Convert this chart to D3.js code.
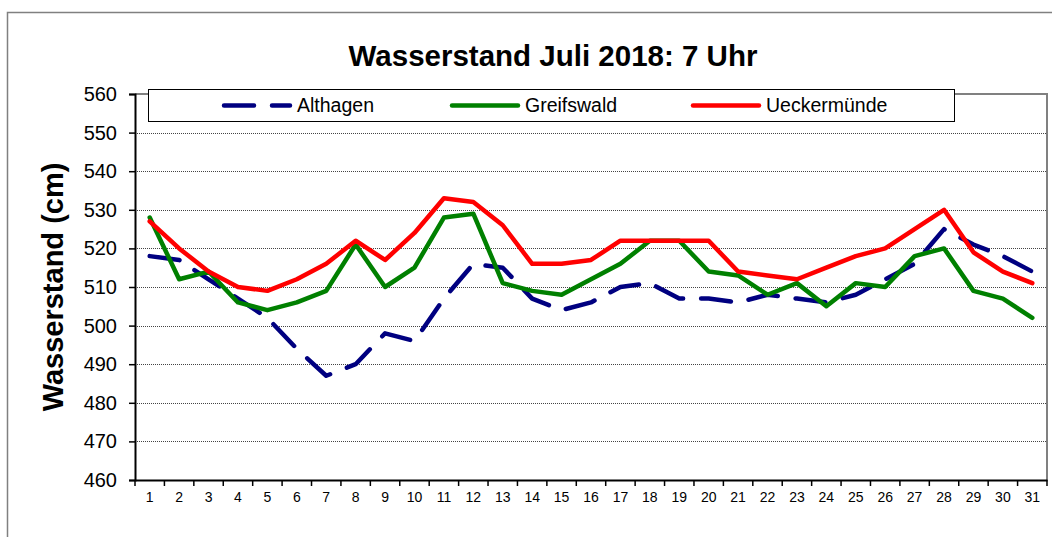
<!DOCTYPE html>
<html>
<head>
<meta charset="utf-8">
<script src="https://cdn.jsdelivr.net/npm/d3@7"></script>
<style>
  body { margin: 0; background: #fff; }
  svg { display: block; font-family: 'Liberation Sans', Arial, sans-serif; }
</style>
</head>
<body>
<div id="chart"></div>
<script>
const days = d3.range(1, 32)

const althagen = [518, 517, 512, 507, 502, 494, 487, 490, 498, 496, 507, 516, 515, 507, 504, 506, 510, 511, 507, 507, 506, 508, 507, 506, 508, 512, 516, 525, 521, 518, 514]
const greifswald = [528, 512, 514, 506, 504, 506, 509, 521, 510, 515, 528, 529, 511, 509, 508, 512, 516, 522, 522, 514, 513, 508, 511, 505, 511, 510, 518, 520, 509, 507, 502]
const ueckermuende = [527, 520, 514, 510, 509, 512, 516, 522, 517, 524, 533, 532, 526, 516, 516, 517, 522, 522, 522, 522, 514, 513, 512, 515, 518, 520, 525, 530, 519, 514, 511]

const seriesNames = ['Althagen', 'Greifswald', 'Ueckermünde']
const yTicks = d3.range(460, 561, 10)

const width = 1052
const height = 537
const margin = { top: 94, left: 135, right: 5, bottom: 57 }

const svg = d3
  .select('#chart')
  .append('svg')
  .attr('width', width)
  .attr('height', height)

// outer chart border
svg
  .append('rect')
  .attr('x', 7.5)
  .attr('y', 12.5)
  .attr('width', 1200)
  .attr('height', 800)
  .attr('fill', 'none')
  .attr('stroke', '#808080')
  .attr('stroke-width', 1.5)

const xScale = d3
  .scaleBand()
  .domain(days)
  .range([margin.left, width - margin.right])

const yScale = d3
  .scaleLinear()
  .domain([460, 560])
  .range([height - margin.bottom, margin.top])

const cx = d => xScale(d) + xScale.bandwidth() / 2

// gridlines
svg
  .selectAll('.grid')
  .data(yTicks.filter(d => d > 460 && d < 560))
  .enter()
  .append('line')
  .attr('class', 'grid')
  .attr('x1', margin.left)
  .attr('x2', width - margin.right)
  .attr('y1', d => Math.round(yScale(d)) + 0.5)
  .attr('y2', d => Math.round(yScale(d)) + 0.5)
  .attr('stroke', '#444')
  .attr('stroke-width', 1)
  .attr('stroke-dasharray', '1,1')

// plot area border (top/right grey)
svg
  .append('path')
  .attr('d', `M${margin.left},${yScale(560)}H${width - margin.right}V${yScale(460)}`)
  .attr('fill', 'none')
  .attr('stroke', '#808080')
  .attr('stroke-width', 2)

// lines
const lineData = [
  { name: seriesNames[0], values: althagen, color: '#000080', dash: '30,18' },
  { name: seriesNames[1], values: greifswald, color: '#008000', dash: null },
  { name: seriesNames[2], values: ueckermuende, color: '#ff0000', dash: null }
]

const line = d3
  .line()
  .x((d, i) => cx(days[i]))
  .y(d => yScale(d))

svg
  .selectAll('.series')
  .data(lineData)
  .enter()
  .append('path')
  .attr('class', 'series')
  .attr('d', d => line(d.values))
  .attr('fill', 'none')
  .attr('stroke', d => d.color)
  .attr('stroke-width', 4.5)
  .attr('stroke-linejoin', 'round')
  .attr('stroke-linecap', 'round')
  .attr('stroke-dasharray', d => d.dash)

// y axis
const yAxis = d3
  .axisLeft(yScale)
  .tickValues(yTicks)
  .tickSize(6)
  .tickPadding(12)
  .tickFormat(d3.format('d'))

svg
  .append('g')
  .attr('transform', `translate(${margin.left},0)`)
  .call(yAxis)
  .call(g => g.select('.domain').attr('stroke', '#000').attr('stroke-width', 2))
  .call(g => g.selectAll('.tick line').attr('stroke', '#000').attr('stroke-width', 1.5))
  .call(g =>
    g
      .selectAll('.tick text')
      .attr('font-size', 20)
      .attr('font-family', 'Liberation Sans, Arial, sans-serif')
      .attr('fill', '#000')
  )

// x axis
const xAxis = d3
  .axisBottom(xScale)
  .tickSize(0)
  .tickPadding(12)

const xg = svg
  .append('g')
  .attr('transform', `translate(0,${yScale(460)})`)
  .call(xAxis)
  .call(g => g.select('.domain').attr('stroke', '#000').attr('stroke-width', 2))
  .call(g =>
    g
      .selectAll('.tick text')
      .attr('font-size', 14)
      .attr('font-family', 'Liberation Sans, Arial, sans-serif')
      .attr('fill', '#000')
  )

// tick marks between categories
xg.selectAll('.sep')
  .data(days.concat([32]))
  .enter()
  .append('line')
  .attr('class', 'sep')
  .attr('x1', d => (d <= 31 ? xScale(d) : xScale(31) + xScale.bandwidth()))
  .attr('x2', d => (d <= 31 ? xScale(d) : xScale(31) + xScale.bandwidth()))
  .attr('y1', 0)
  .attr('y2', 6)
  .attr('stroke', '#000')
  .attr('stroke-width', 1.5)

// title
svg
  .append('text')
  .text('Wasserstand Juli 2018: 7 Uhr')
  .attr('x', 553)
  .attr('y', 66)
  .attr('text-anchor', 'middle')
  .attr('font-size', 29.5)
  .attr('font-weight', 'bold')

// y axis label
svg
  .append('text')
  .text('Wasserstand (cm)')
  .attr('transform', `translate(63,${(yScale(460) + yScale(560)) / 2}) rotate(-90)`)
  .attr('text-anchor', 'middle')
  .attr('font-size', 29)
  .attr('font-weight', 'bold')

// legend
const legend = svg.append('g')

legend
  .append('rect')
  .attr('x', 148.5)
  .attr('y', 89.5)
  .attr('width', 806)
  .attr('height', 32)
  .attr('fill', '#fff')
  .attr('stroke', '#000')
  .attr('stroke-width', 1)

const legendX = [224, 452, 693]

legend
  .selectAll('.item')
  .data(lineData)
  .enter()
  .append('g')
  .attr('class', 'item')
  .each(function(d, i) {
    const g = d3.select(this)
    g.append('line')
      .attr('x1', legendX[i])
      .attr('x2', legendX[i] + 66)
      .attr('y1', 105.5)
      .attr('y2', 105.5)
      .attr('stroke', d.color)
      .attr('stroke-width', 4.5)
      .attr('stroke-linecap', 'round')
      .attr('stroke-dasharray', d.dash)
    g.append('text')
      .text(d.name)
      .attr('x', legendX[i] + 73)
      .attr('y', 112)
      .attr('font-size', 19.5)
  })
</script>
</body>
</html>
